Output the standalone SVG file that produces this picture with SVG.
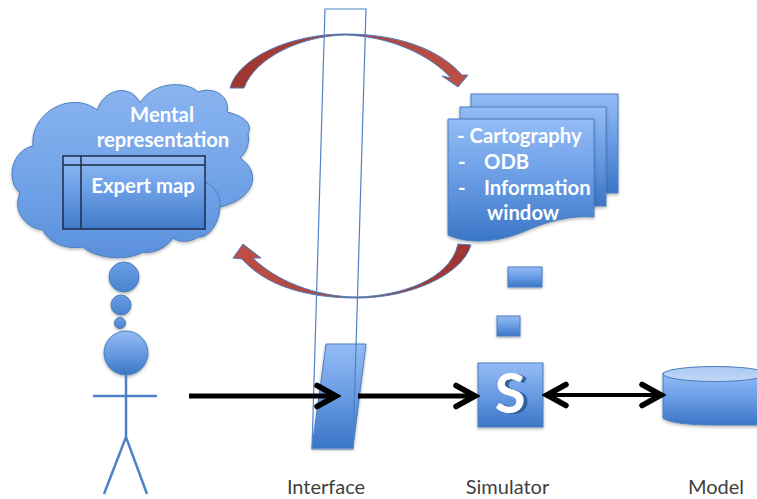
<svg xmlns="http://www.w3.org/2000/svg" width="757" height="499" viewBox="0 0 757 499">
<defs>
<linearGradient id="blue" x1="0" y1="0" x2="0" y2="1"><stop offset="0" stop-color="#94bcf5"/><stop offset="0.45" stop-color="#6d9fe6"/><stop offset="1" stop-color="#3a76c6"/></linearGradient>
<linearGradient id="cloudFill" x1="0" y1="0" x2="0" y2="1"><stop offset="0" stop-color="#8ab4f0"/><stop offset="0.5" stop-color="#74a5e9"/><stop offset="1" stop-color="#5a90dc"/></linearGradient>
<linearGradient id="bubble" x1="0" y1="0" x2="0" y2="1"><stop offset="0" stop-color="#6a9ee4"/><stop offset="1" stop-color="#4a82cf"/></linearGradient>
<linearGradient id="topLid" x1="0" y1="0" x2="0" y2="1"><stop offset="0" stop-color="#a9c8f3"/><stop offset="1" stop-color="#c3d8f6"/></linearGradient>
<linearGradient id="redTop" x1="0" y1="0" x2="1" y2="0"><stop offset="0" stop-color="#9e3530"/><stop offset="1" stop-color="#bd4f45"/></linearGradient>
<linearGradient id="redBottom" x1="1" y1="0" x2="0" y2="0"><stop offset="0" stop-color="#9e3530"/><stop offset="1" stop-color="#bd4f45"/></linearGradient>
<filter id="soft" x="-10%" y="-10%" width="120%" height="125%"><feDropShadow dx="0" dy="1.5" stdDeviation="1.5" flood-color="#000" flood-opacity="0.3"/></filter>
<filter id="letter" x="-20%" y="-20%" width="150%" height="140%"><feDropShadow dx="4" dy="1" stdDeviation="0.6" flood-color="#24558f" flood-opacity="0.8"/></filter>
<marker id="head" markerUnits="userSpaceOnUse" markerWidth="30" markerHeight="32" viewBox="-26 -16 30 32" refX="0" refY="0" orient="auto-start-reverse"><path d="M-20,-10.5 L-1,0 L-20,10.5" fill="none" stroke="#000" stroke-width="5.5" stroke-linecap="round" stroke-linejoin="miter"/></marker>
</defs>
<style>
.shape{fill:url(#blue);stroke:#4a7ebb;stroke-width:1;filter:url(#soft)}
.bubble{fill:url(#bubble)}
.stick{fill:none;stroke:#4f81c7;stroke-width:2.5}
.wire{fill:none;stroke:#000;stroke-width:5}
.ui{font-family:"Lato","Liberation Sans",sans-serif;font-weight:700;font-size:20.3px;fill:#fff}
.cap{font-family:"Lato","Liberation Sans",sans-serif;font-size:20px;fill:#404040}
.grid{fill:none;stroke:#1d2c48;stroke-width:1.5}
</style>
<g id="cycle-arrows">
<path d="M230,88 C238,58 290,34 345,34 C400,34 440,50 462,75 L468,75 L458,87 L442,76 L451,78 C430,55 390,36 345,35 C300,36 255,58 244,88 Z" fill="url(#redTop)" stroke="#4a7ebb" stroke-width="1"/>
<path d="M471,245 C462,275 410,298 357,298 C305,298 265,285 242,259 L233,258 L243,244 L261,258 L253,258 C275,280 315,297 357,297 C400,296 450,280 458,244 Z" fill="url(#redBottom)" stroke="#4a7ebb" stroke-width="1"/>
</g>
<g id="cloud">
<path class="shape" style="fill:url(#cloudFill)" d="M33,146 C30,112 72,90 97,110 C106,86 132,85 140,103 C152,82 186,80 198,92 C214,86 230,96 227,112 C244,116 253,124 248,133 C250,145 246,152 240,158 C260,170 258,198 220,207 C219,225 208,238 198,237 C190,243 178,242 173,238 C165,250 150,254 143,252 C125,262 95,258 83,247 C65,250 48,242 43,230 C25,228 12,210 20,193 C5,180 12,150 33,146 Z"/>
<path d="M205,182 C215,186 221,196 220,207" fill="none" stroke="#4a7ebb" stroke-width="1"/>
<text class="ui" x="162" y="122" text-anchor="middle">Mental</text>
<text class="ui" x="163" y="147" text-anchor="middle">representation</text>
</g>
<g id="expert-map">
<rect x="63" y="156" width="142" height="73" fill="url(#blue)" fill-opacity="0.88"/>
<rect class="grid" x="63" y="156" width="142" height="73"/>
<path class="grid" d="M63,165 H205 M81,156 V229"/>
<text class="ui" x="143" y="193" text-anchor="middle">Expert map</text>
</g>
<g id="person">
<circle class="shape bubble" style="fill:url(#bubble)" cx="124" cy="277" r="15"/>
<circle class="shape bubble" style="fill:url(#bubble)" cx="121" cy="305" r="10"/>
<circle class="shape bubble" style="fill:url(#bubble)" cx="120" cy="323" r="5.500"/>
<circle class="shape" cx="126" cy="353" r="22"/>
<path class="stick" d="M126,375 V437 M93,396 H157 M104,494 L126,437 L147,494"/>
</g>
<g id="documents">
<rect class="shape" x="471" y="94" width="147" height="99"/>
<rect class="shape" x="460" y="107" width="146" height="99"/>
<path class="shape" d="M448,119 H594 V217 C570,215 545,222 525,231 C500,242 470,245 448,235 Z"/>
<text class="ui" x="457" y="143">- Cartography</text>
<text class="ui" x="458" y="169">-</text><text class="ui" x="484" y="169">ODB</text>
<text class="ui" x="458" y="195">-</text><text class="ui" x="484" y="195">Information</text>
<text class="ui" x="487" y="220">window</text>
</g>
<g id="messages">
<rect class="shape" x="508" y="267" width="34" height="20"/>
<rect class="shape" x="497" y="316" width="23" height="20"/>
</g>
<g id="interface">
<path class="shape" d="M326,344 H366 L353,448 H312 Z"/>
<path d="M325,9 H366 L353,449 H312 Z" fill="none" stroke="#4f81c7" stroke-width="1.2"/>
</g>
<g id="simulator">
<rect class="shape" x="478" y="363" width="65" height="64"/>
<text x="510" y="413" text-anchor="middle" font-family="Lato, 'Liberation Sans', sans-serif" font-weight="700" font-size="56" fill="#fff" filter="url(#letter)">S</text>
</g>
<g id="model">
<path class="shape" d="M663,373 V418 C670,423 690,425 715,425 H770 V373 Z"/>
<ellipse cx="715" cy="374" rx="52" ry="7.500" fill="url(#topLid)" stroke="#4a7ebb" stroke-width="1"/>
</g>
<g id="connectors">
<path class="wire" d="M189,396 H337" marker-end="url(#head)"/>
<path class="wire" d="M358,396 H476" marker-end="url(#head)"/>
<path class="wire" style="stroke-width:4" d="M546,395 H662" marker-start="url(#head)" marker-end="url(#head)"/>
</g>
<g id="labels">
<text class="cap" x="326" y="494" text-anchor="middle">Interface</text>
<text class="cap" x="507.500" y="494" text-anchor="middle">Simulator</text>
<text class="cap" x="716" y="494" text-anchor="middle">Model</text>
</g>
</svg>
